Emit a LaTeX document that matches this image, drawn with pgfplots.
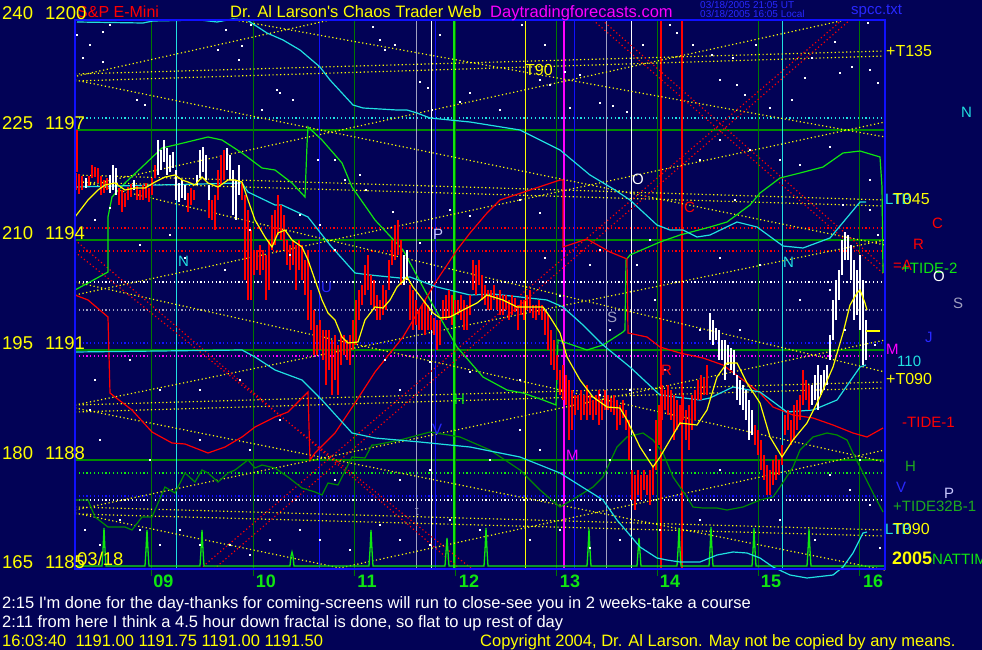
\documentclass[border=0pt]{standalone}
\usepackage{pgfplots}
\pgfplotsset{compat=1.18}
\usepackage{fontspec}
\setmainfont{Liberation Sans}[Ligatures=TeXOff]
\definecolor{bg}{RGB}{2,2,86}
\definecolor{fblue}{RGB}{16,16,255}
\definecolor{dkg}{RGB}{0,140,0}
\definecolor{dkgv}{RGB}{0,120,0}
\definecolor{limeg}{RGB}{16,230,16}
\definecolor{cyn}{RGB}{32,224,224}
\definecolor{gry}{RGB}{160,160,192}
\definecolor{yel}{RGB}{255,255,0}
\definecolor{mag}{RGB}{255,0,255}
\definecolor{rd}{RGB}{255,0,0}
\definecolor{tblue}{RGB}{40,40,255}
\definecolor{lav}{RGB}{200,200,255}
\definecolor{tdkg}{RGB}{30,170,30}
\newcommand{\fs}[1]{\fontsize{#1}{#1}\selectfont}
\pgfplotsset{dotl/.style={line width=1.2pt, dash pattern=on 1.2pt off 2.6pt}}
\begin{document}
\begin{tikzpicture}
\useasboundingbox (-75pt,-80pt) rectangle (907pt,570pt);
\fill[bg] (-75pt,-80pt) rectangle (907pt,570pt);
\begin{axis}[at={(0pt,0pt)}, anchor=south west, scale only axis, width=810pt, height=550pt,
  xmin=75, xmax=885, ymin=20, ymax=570, y dir=reverse, hide axis, clip=false,
  unbounded coords=jump, every axis plot/.append style={line width=1pt}]
% white dots
\addplot[only marks, mark=square*, mark size=0.6pt, white] coordinates {(77,35)(103,32)(110,25)(90,45)(83,58)(103,62)(137,100)(145,105)(218,50)(226,30)(239,60)(242,46)(251,25)(277,90)(280,93)(293,100)(262,110)(373,27)(380,40)(395,45)(385,50)(420,82)(428,88)(440,35)(432,110)(460,102)(470,93)(500,110)(522,25)(540,80)(545,45)(550,85)(565,72)(570,108)(580,75)(600,103)(613,106)(627,112)(643,45)(670,25)(677,33)(693,45)(712,55)(720,80)(733,58)(737,85)(745,95)(756,45)(770,108)(792,100)(805,78)(812,58)(835,42)(840,73)(852,67)(868,23)(870,70)(878,83)(95,220)(110,208)(140,245)(170,235)(185,258)(225,270)(250,230)(290,255)(300,215)(318,160)(335,160)(345,180)(360,175)(366,190)(335,250)(320,225)(393,212)(420,243)(450,210)(470,216)(520,200)(540,213)(545,258)(560,296)(590,265)(600,250)(610,330)(637,265)(650,240)(655,300)(665,370)(630,390)(600,395)(520,380)(470,372)(430,362)(400,390)(385,360)(700,160)(720,140)(750,150)(780,160)(800,165)(830,147)(843,205)(870,210)(878,235)(870,180)(735,200)(720,258)(760,265)(800,300)(830,290)(845,330)(875,345)(760,310)(740,330)(700,330)(720,470)(805,500)(815,540)(850,490)(870,505)(880,548)(700,520)(660,530)(620,540)(590,548)(560,530)(530,540)(480,530)(450,520)(430,545)(400,540)(380,525)(350,550)(320,540)(300,530)(270,540)(250,555)(230,545)(200,545)(180,530)(160,545)(140,530)(120,520)(100,545)(85,530)(90,410)(95,380)(130,360)(160,390)(200,390)(240,380)(280,420)(100,440)(150,460)(200,440)(250,450)(335,480)(400,480)(430,470)(490,460)(520,430)(540,450)(610,460)(650,450)(780,520)(830,475)(860,460)};
% horizontal grid
\addplot[dkg, line width=1.3pt] coordinates {(75,130)(885,130)(80,nan)(75,240)(885,240)(80,nan)(75,350)(885,350)(80,nan)(75,460)(885,460)};
% horizontal dotted
\addplot[cyn, dotl] coordinates {(75,118)(885,118)};
\addplot[rd, dotl] coordinates {(75,228)(885,228)(80,nan)(75,251)(885,251)};
\addplot[white, dotl] coordinates {(75,282)(885,282)(80,nan)(75,500)(885,500)};
\addplot[gry, dotl] coordinates {(75,310)(885,310)};
\addplot[fblue, dotl] coordinates {(75,343)(885,343)(80,nan)(75,496)(885,496)};
\addplot[mag, dotl] coordinates {(75,356)(885,356)};
\addplot[limeg, dotl] coordinates {(75,473)(885,473)};
% vertical lines
\addplot[dkgv, line width=1pt] coordinates {(151,20)(151,576)(151,nan)(253,20)(253,576)(253,nan)(354,20)(354,576)(354,nan)(455,20)(455,576)(455,nan)(556,20)(556,576)(556,nan)(657,20)(657,576)(657,nan)(758,20)(758,576)(758,nan)(859,20)(859,576)};
\addplot[cyn] coordinates {(176,20)(176,569)(176,nan)(782,20)(782,569)};
\addplot[fblue] coordinates {(319,20)(319,569)(319,nan)(435,20)(435,569)(435,nan)(574,20)(574,569)};
\addplot[gry] coordinates {(416,20)(416,569)(416,nan)(606,20)(606,569)};
\addplot[white] coordinates {(431,20)(431,569)(431,nan)(631,20)(631,569)};
\addplot[limeg, line width=1.4pt] coordinates {(454,20)(454,569)};
\addplot[yel] coordinates {(525,20)(525,569)};
\addplot[mag, line width=1.4pt] coordinates {(564,20)(564,569)};
\addplot[rd, line width=1.4pt] coordinates {(661,20)(661,569)(661,nan)(682,20)(682,569)(682,nan)(77,130)(77,172)};
% yellow dotted fan lines
\addplot[yel, dotl] coordinates {(77,76)(330,20)(80,nan)(75,74)(885,51)(80,nan)(75,81)(885,56)(80,nan)(75,80)(885,245)(80,nan)(235,20)(885,137)(80,nan)(75,188)(845,20)(80,nan)(75,175)(885,200)(80,nan)(75,182)(885,206)(80,nan)(75,180)(885,372)(80,nan)(75,405)(885,382)(80,nan)(75,412)(885,388)(80,nan)(75,405)(885,240)(80,nan)(75,295)(885,122)(80,nan)(75,282)(885,462)(80,nan)(75,408)(885,570)(80,nan)(75,507)(885,530)(80,nan)(75,514)(885,536)(80,nan)(75,510)(885,340)(80,nan)(75,513)(345,569)(80,nan)(335,569)(885,450)};
% red dotted diagonals
\addplot[rd, dotl] coordinates {(75,240)(460,569)(80,nan)(75,252)(472,569)(80,nan)(200,569)(842,20)(80,nan)(214,569)(850,20)(80,nan)(593,20)(885,275)(80,nan)(602,20)(885,268)};
% NATTIM spikes
\addplot[limeg, line width=1.3pt] coordinates {(75,566)(102,566)(103,550)(104,528)(105,550)(106,566)(145,566)(146,550)(147,530)(148,550)(149,566)(200,566)(201,550)(202,530)(203,550)(204,566)(290,566)(291,556)(292,552)(293,556)(294,566)(369,566)(370,550)(371,530)(372,550)(373,566)(445,566)(446,552)(447,538)(448,552)(449,566)(484,566)(485,550)(486,528)(487,550)(488,566)(587,566)(588,550)(589,529)(590,550)(591,566)(637,566)(638,552)(639,538)(640,552)(641,566)(677,566)(678,550)(679,528)(680,550)(681,566)(709,566)(710,550)(711,527)(712,550)(713,566)(752,566)(753,550)(754,528)(755,550)(756,566)(807,566)(808,550)(809,529)(810,550)(811,566)(885,566)};
% dark green indicator
\addplot[dkg, line width=1.2pt] coordinates {(75,500)(88,500)(95,517)(108,527)(125,527)(132,530)(142,517)(152,517)(165,487)(175,493)(185,473)(195,482)(202,470)(208,473)(218,482)(228,473)(235,470)(248,460)(255,468)(262,465)(275,468)(288,477)(302,488)(315,492)(322,495)(328,483)(338,485)(352,457)(365,458)(372,445)(375,445)(400,440)(430,432)(460,437)(490,450)(520,470)(540,490)(560,507)(577,497)(593,487)(603,477)(617,447)(627,437)(643,433)(653,440)(663,453)(673,477)(687,497)(693,507)(703,508)(717,508)(727,510)(743,507)(760,500)(773,497)(780,487)(793,467)(800,450)(813,437)(827,433)(837,435)(847,440)(853,453)(863,473)(873,493)(883,512)};
% lime indicator
\addplot[limeg, line width=1.2pt] coordinates {(75,290)(88,283)(108,272)(108,217)(112,197)(125,183)(142,167)(162,148)(175,145)(208,137)(222,140)(242,153)(262,168)(275,170)(292,183)(305,197)(307,145)(308,127)(322,140)(342,163)(352,187)(375,220)(403,250)(430,300)(457,347)(483,377)(507,390)(523,393)(543,400)(556,405)(558,340)(587,350)(603,345)(623,332)(625,330)(626,260)(630,255)(660,242)(680,235)(710,227)(727,222)(750,205)(760,193)(780,178)(800,173)(823,167)(843,153)(860,151)(880,157)(882,187)(883,273)};
% red indicator
\addplot[rd, line width=1.2pt] coordinates {(75,295)(88,300)(108,317)(110,393)(115,397)(132,410)(152,432)(172,443)(185,444)(208,453)(225,447)(242,437)(255,427)(275,417)(288,412)(308,392)(310,460)(315,453)(335,433)(355,403)(375,372)(403,337)(437,280)(457,250)(470,233)(487,213)(500,200)(530,190)(560,180)(563,180)(563,247)(587,239)(610,252)(627,259)(628,333)(647,337)(660,347)(680,353)(703,358)(723,365)(747,383)(760,393)(773,407)(793,415)(813,418)(833,425)(853,433)(867,437)(883,428)};
% cyan lines
\addplot[cyn, line width=1.2pt] coordinates {(77,22)(143,23)(153,21)(200,20)(217,22)(233,19)(247,20)(267,33)(283,40)(300,50)(320,67)(330,80)(353,105)(363,108)(397,110)(407,110)(417,113)(430,118)(470,122)(520,130)(560,150)(590,175)(615,190)(630,200)(657,225)(670,230)(683,230)(697,237)(710,235)(737,222)(757,227)(783,246)(803,248)(830,238)(845,220)(860,202)(866,202)};
\addplot[cyn, line width=1.2pt] coordinates {(75,187)(242,183)(248,192)(275,205)(282,205)(308,217)(330,245)(355,273)(370,275)(400,278)(410,277)(437,287)(470,295)(493,294)(520,297)(547,300)(563,307)(583,325)(603,345)(630,367)(660,395)(700,400)(710,398)(733,387)(760,392)(787,412)(813,410)(837,400)(860,367)(866,365)};
\addplot[cyn, line width=1.2pt] coordinates {(75,352)(242,350)(255,357)(275,370)(302,380)(322,400)(352,433)(375,438)(420,442)(470,447)(520,457)(560,473)(603,500)(617,520)(640,547)(657,558)(667,560)(680,562)(700,562)(717,555)(733,552)(747,553)(760,558)(773,567)(790,575)(807,578)(833,575)(843,567)(853,553)(863,533)(867,532)};
% price bars red
\addplot[rd, line width=2.4pt] coordinates {(76,173)(76,190)(76,nan)(79,174)(79,194)(79,nan)(82,176)(82,190)(82,nan)(89,176)(89,186)(89,nan)(92,165)(92,178)(92,nan)(95,167)(95,177)(95,nan)(98,168)(98,183)(98,nan)(101,176)(101,195)(101,nan)(104,180)(104,193)(104,nan)(107,178)(107,190)(107,nan)(119,188)(119,205)(119,nan)(122,190)(122,212)(122,nan)(125,193)(125,207)(125,nan)(128,187)(128,200)(128,nan)(131,184)(131,197)(131,nan)(137,186)(137,200)(137,nan)(140,190)(140,200)(140,nan)(143,185)(143,200)(143,nan)(146,183)(146,198)(146,nan)(149,188)(149,202)(149,nan)(152,178)(152,195)(152,nan)(155,165)(155,178)(155,nan)(188,193)(188,212)(188,nan)(191,188)(191,205)(191,nan)(194,190)(194,200)(194,nan)(209,200)(209,218)(209,nan)(212,200)(212,220)(212,nan)(215,195)(215,230)(215,nan)(218,170)(218,200)(218,nan)(221,155)(221,185)(221,nan)(224,150)(224,180)(224,nan)(242,182)(242,200)(242,nan)
(245,195)(245,280)(245,nan)(248,210)(248,300)(248,nan)(251,230)(251,300)(251,nan)(254,250)(254,275)(254,nan)(257,250)(257,270)(257,nan)(260,245)(260,275)(260,nan)(263,250)(263,270)(263,nan)(266,255)(266,300)(266,nan)(269,240)(269,290)(269,nan)(272,215)(272,250)(272,nan)(275,210)(275,245)(275,nan)(278,195)(278,235)(278,nan)(281,205)(281,240)(281,nan)(284,215)(284,250)(284,nan)(287,240)(287,265)(287,nan)(290,245)(290,270)(290,nan)(293,240)(293,265)(293,nan)(296,245)(296,290)(296,nan)(299,240)(299,270)(299,nan)(302,245)(302,280)(302,nan)(305,260)(305,295)(305,nan)(308,250)(308,320)(308,nan)(311,290)(311,330)(311,nan)(314,310)(314,355)(314,nan)(317,325)(317,355)(317,nan)(320,320)(320,350)(320,nan)(323,330)(323,360)(323,nan)(326,330)(326,385)(326,nan)(329,330)(329,370)(329,nan)(332,340)(332,395)(332,nan)(335,335)(335,380)(335,nan)(338,345)(338,395)(338,nan)(341,335)(341,365)(341,nan)(344,335)(344,355)(344,nan)(347,340)(347,360)(347,nan)(350,335)(350,365)(350,nan)(353,320)(353,350)(353,nan)(356,300)(356,345)(356,nan)(359,290)(359,320)(359,nan)(362,285)(362,305)(362,nan)(365,265)(365,295)(365,nan)(368,255)(368,290)(368,nan)(371,275)(371,305)(371,nan)(374,280)(374,310)(374,nan)(377,295)(377,320)(377,nan)(380,300)(380,320)(380,nan)(383,285)(383,315)(383,nan)(386,290)(386,310)(386,nan)(389,260)(389,290)(389,nan)(392,240)(392,265)(392,nan)(395,225)(395,260)(395,nan)(398,220)(398,255)(398,nan)(401,240)(401,285)(401,nan)
(410,285)(410,320)(410,nan)(413,290)(413,330)(413,nan)(416,300)(416,325)(416,nan)(419,310)(419,330)(419,nan)(422,305)(422,330)(422,nan)(425,300)(425,335)(425,nan)(428,305)(428,330)(428,nan)(431,315)(431,330)(431,nan)(434,318)(434,335)(434,nan)(437,320)(437,350)(437,nan)(440,320)(440,345)(440,nan)(443,300)(443,320)(443,nan)(446,295)(446,320)(446,nan)(449,290)(449,318)(449,nan)(452,295)(452,325)(452,nan)(455,300)(455,315)(455,nan)(458,300)(458,315)(458,nan)(461,295)(461,320)(461,nan)(464,300)(464,330)(464,nan)(467,305)(467,330)(467,nan)(470,295)(470,315)(470,nan)(473,260)(473,290)(473,nan)(476,265)(476,295)(476,nan)(479,260)(479,285)(479,nan)(482,275)(482,300)(482,nan)(485,285)(485,305)(485,nan)(488,290)(488,310)(488,nan)(491,290)(491,310)(491,nan)(494,285)(494,300)(494,nan)(497,295)(497,310)(497,nan)(500,290)(500,315)(500,nan)(503,295)(503,315)(503,nan)(506,295)(506,310)(506,nan)(509,300)(509,320)(509,nan)(512,295)(512,315)(512,nan)(515,298)(515,312)(515,nan)(518,305)(518,330)(518,nan)(521,300)(521,315)(521,nan)(524,300)(524,320)(524,nan)(527,295)(527,310)(527,nan)(530,290)(530,313)(530,nan)(533,305)(533,318)(533,nan)(536,305)(536,320)(536,nan)(539,300)(539,315)(539,nan)(542,305)(542,320)(542,nan)(545,310)(545,335)(545,nan)(548,315)(548,350)(548,nan)(551,330)(551,365)(551,nan)(554,340)(554,370)(554,nan)(557,355)(557,380)(557,nan)(560,370)(560,395)(560,nan)(563,365)(563,400)(563,nan)(566,375)(566,405)(566,nan)(569,380)(569,440)(569,nan)(572,390)(572,430)(572,nan)(575,395)(575,415)(575,nan)(578,395)(578,410)(578,nan)(581,390)(581,420)(581,nan)(584,395)(584,415)(584,nan)(587,385)(587,420)(587,nan)(590,395)(590,415)(590,nan)(593,400)(593,420)(593,nan)(596,395)(596,415)(596,nan)(599,390)(599,425)(599,nan)(602,400)(602,420)(602,nan)(605,390)(605,410)(605,nan)(608,395)(608,410)(608,nan)(611,398)(611,412)(611,nan)(614,395)(614,415)(614,nan)(617,400)(617,430)(617,nan)(620,405)(620,425)(620,nan)(623,400)(623,418)(623,nan)(626,410)(626,430)(626,nan)(629,420)(629,460)(629,nan)(632,470)(632,500)(632,nan)(635,475)(635,510)(635,nan)(638,470)(638,495)(638,nan)(641,475)(641,500)(641,nan)(644,470)(644,490)(644,nan)(647,475)(647,495)(647,nan)(650,470)(650,505)(650,nan)(653,465)(653,495)(653,nan)(656,420)(656,470)(656,nan)(659,405)(659,445)(659,nan)(662,385)(662,420)(662,nan)(665,390)(665,410)(665,nan)(668,385)(668,415)(668,nan)(671,390)(671,420)(671,nan)(674,395)(674,440)(674,nan)(677,400)(677,430)(677,nan)(680,405)(680,425)(680,nan)(683,395)(683,420)(683,nan)(686,410)(686,440)(686,nan)(689,405)(689,450)(689,nan)(692,395)(692,430)(692,nan)(695,390)(695,420)(695,nan)(698,380)(698,400)(698,nan)(701,375)(701,400)(701,nan)(704,378)(704,395)(704,nan)(707,365)(707,395)(707,nan)
(755,425)(755,445)(755,nan)(758,430)(758,455)(758,nan)(761,440)(761,470)(761,nan)(764,455)(764,480)(764,nan)(767,465)(767,495)(767,nan)(770,470)(770,495)(770,nan)(773,460)(773,485)(773,nan)(776,455)(776,480)(776,nan)(779,460)(779,475)(779,nan)(782,445)(782,465)(782,nan)(785,415)(785,435)(785,nan)(788,410)(788,430)(788,nan)(791,420)(791,445)(791,nan)(794,405)(794,440)(794,nan)(797,400)(797,430)(797,nan)(800,395)(800,420)(800,nan)(803,370)(803,405)(803,nan)(806,380)(806,400)(806,nan)(809,385)(809,410)(809,nan)};
% price bars white
\addplot[white, line width=2.4pt] coordinates {(86,178)(86,188)(86,nan)(110,175)(110,193)(110,nan)(113,165)(113,190)(113,nan)(116,168)(116,195)(116,nan)(134,180)(134,190)(134,nan)(158,140)(158,175)(158,nan)(161,150)(161,170)(161,nan)(164,140)(164,162)(164,nan)(167,148)(167,175)(167,nan)(170,155)(170,172)(170,nan)(173,152)(173,168)(173,nan)(176,170)(176,200)(176,nan)(179,183)(179,202)(179,nan)(182,180)(182,198)(182,nan)(185,185)(185,200)(185,nan)(197,175)(197,185)(197,nan)(200,150)(200,178)(200,nan)(203,147)(203,172)(203,nan)(206,155)(206,180)(206,nan)(209,185)(209,200)(209,nan)(227,148)(227,170)(227,nan)(230,155)(230,180)(230,nan)(233,170)(233,215)(233,nan)(236,180)(236,220)(236,nan)(239,165)(239,195)(239,nan)(404,255)(404,285)(404,nan)(407,250)(407,280)(407,nan)
(710,313)(710,340)(710,nan)(713,320)(713,345)(713,nan)(716,328)(716,340)(716,nan)(719,330)(719,360)(719,nan)(722,340)(722,360)(722,nan)(725,340)(725,380)(725,nan)(728,345)(728,365)(728,nan)(731,348)(731,370)(731,nan)(734,350)(734,375)(734,nan)(737,375)(737,400)(737,nan)(740,380)(740,405)(740,nan)(743,385)(743,410)(743,nan)(746,390)(746,420)(746,nan)(749,400)(749,440)(749,nan)(752,410)(752,435)(752,nan)
(812,385)(812,405)(812,nan)(815,375)(815,400)(815,nan)(818,365)(818,410)(818,nan)(821,375)(821,395)(821,nan)(824,370)(824,390)(824,nan)(827,365)(827,385)(827,nan)(830,335)(830,360)(830,nan)(833,300)(833,340)(833,nan)(836,280)(836,320)(836,nan)(839,270)(839,300)(839,nan)(842,240)(842,275)(842,nan)(845,232)(845,260)(845,nan)(848,235)(848,260)(848,nan)(851,245)(851,280)(851,nan)(854,260)(854,320)(854,nan)(857,270)(857,315)(857,nan)(860,255)(860,330)(860,nan)(863,280)(863,365)(863,nan)(866,320)(866,360)};
% yellow moving average
\addplot[yel, line width=1.2pt] coordinates {(75,217)(88,200)(98,190)(105,185)(115,183)(125,190)(135,188)(145,188)(155,182)(165,177)(175,175)(182,180)(188,182)(195,185)(202,177)(208,183)(218,187)(228,180)(235,180)(242,182)(248,200)(255,220)(265,237)(272,247)(278,233)(285,230)(292,240)(302,247)(308,260)(315,280)(322,300)(328,313)(335,320)(342,337)(348,343)(358,342)(365,320)(375,307)(383,308)(390,300)(397,287)(407,277)(413,287)(423,300)(433,313)(440,318)(450,317)(463,310)(477,303)(487,295)(503,300)(517,307)(530,307)(543,307)(550,317)(560,333)(567,357)(580,380)(593,397)(607,407)(620,408)(627,420)(640,447)(653,467)(660,457)(670,440)(680,423)(697,425)(707,410)(717,377)(727,363)(737,363)(747,383)(760,403)(770,437)(782,457)(793,440)(807,423)(820,397)(833,367)(843,333)(850,305)(857,293)(860,290)(865,303)(867,310)};
\addplot[yel, line width=2.5pt] coordinates {(866,331)(880,331)};
\end{axis}
\begin{scope}[x=1pt,y=-1pt,shift={(-75pt,570pt)},every node/.style={overlay,inner sep=0pt,anchor=base west}]
\draw[fblue, line width=2pt] (75,20) rectangle (885,569);
% top titles
\node[text=rd,font=\fs{16}] at (77,18) {S\&P E-Mini};
\node[text=yel,font=\fs{16.5}] at (230,18) {Dr. Al Larson's Chaos Trader Web};
\node[text=mag,font=\fs{16.5}] at (490,18) {Daytradingforecasts.com};
\node[text=tblue,font=\fs{10}] at (700,9) {03/18/2005 21:05 UT};
\node[text=tblue,font=\fs{10}] at (700,18) {03/18/2005 16:05 Local};
\node[text=tblue,font=\fs{15}] at (851,15) {spcc.txt};
% left labels
\foreach \a/\b/\yy in {240/1200/20,225/1197/130,210/1194/240,195/1191/350,180/1188/460,165/1185/569}{
  \node[text=yel,font=\fs{18.5}] at (2,\yy) {\a};
  \node[text=yel,font=\fs{18.5}] at (45,\yy) {\b};}
\node[text=yel,font=\fs{18.5}] at (77,566) {03/18};
% x labels
\foreach \xx/\t in {163.5/09,266/10,367/11,469/12,570/13,670/14,771/15,873/16}{
  \node[anchor=base,text=limeg,font=\fs{18}\bfseries] at (\xx,588) {\t};}
% right labels
\node[text=yel,font=\fs{16}] at (886,57) {+T135};
\node[text=cyn,font=\fs{15}] at (961,118) {N};
\node[text=cyn,font=\fs{15}] at (885,205) {LTB};
\node[text=yel,font=\fs{16}] at (893,205) {T045};
\node[text=rd,font=\fs{15}] at (932,229) {C};
\node[text=rd,font=\fs{15}] at (913,250) {R};
\node[text=rd,font=\fs{15}] at (893,271) {=A};
\node[text=limeg,font=\fs{15}] at (901,274) {+TIDE-2};
\node[text=white,font=\fs{15}] at (933,282) {O};
\node[text=gry,font=\fs{15}] at (953,309) {S};
\node[text=tblue,font=\fs{15}] at (925,343) {J};
\node[text=mag,font=\fs{15}] at (886,355) {M};
\node[text=cyn,font=\fs{15}] at (897,367) {110};
\node[text=yel,font=\fs{16}] at (886,385) {+T090};
\node[text=rd,font=\fs{15}] at (902,428) {-TIDE-1};
\node[text=tdkg,font=\fs{15}] at (905,472) {H};
\node[text=tblue,font=\fs{15}] at (896,493) {V};
\node[text=lav,font=\fs{15}] at (944,499) {P};
\node[text=tdkg,font=\fs{15}] at (893,512) {+TIDE32B-1};
\node[text=cyn,font=\fs{15}] at (885,535) {LTB};
\node[text=yel,font=\fs{16}] at (893,535) {T090};
\node[text=yel,font=\fs{18}\bfseries] at (892,565) {2005};
\node[text=limeg,font=\fs{15}] at (932,565) {NATTIM};
% in-plot labels
\node[text=yel,font=\fs{16}] at (525,76) {T90};
\node[text=cyn,font=\fs{15}] at (178,267) {N};
\node[text=lav,font=\fs{15}] at (433,240) {P};
\node[text=white,font=\fs{15}] at (632,185) {O};
\node[text=rd,font=\fs{15}] at (684,213) {C};
\node[text=cyn,font=\fs{15}] at (783,268) {N};
\node[text=gry,font=\fs{15}] at (607,323) {S};
\node[text=tblue,font=\fs{15}] at (321,293) {U};
\node[text=mag,font=\fs{15}] at (566,461) {M};
\node[text=rd,font=\fs{15}] at (661,376) {R};
\node[text=limeg,font=\fs{15}] at (454,405) {H};
\node[text=tblue,font=\fs{15}] at (432,435) {V};
\node[text=gry,font=\fs{13}] at (415,516) {t};
% bottom text
\node[text=white,font=\fs{16.5}] at (2,609) {2:15 I'm done for the day-thanks for coming-screens will run to close-see you in 2 weeks-take a course};
\node[text=white,font=\fs{16.5}] at (2,628) {2:11 from here I think a 4.5 hour down fractal is done, so flat to up rest of day};
\node[text=yel,font=\fs{16.5}] at (2,647) {16:03:40\ \ 1191.00 1191.75 1191.00 1191.50};
\node[text=yel,font=\fs{16.5}] at (480,647) {Copyright 2004, Dr. Al Larson. May not be copied by any means.};
\end{scope}
\end{tikzpicture}
\end{document}
